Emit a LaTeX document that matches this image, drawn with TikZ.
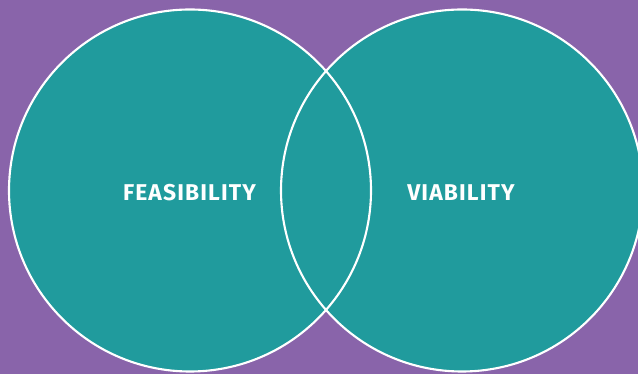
\documentclass[tikz,border=0pt]{standalone}
\usepackage{fontspec}
\setmainfont{Fira Sans}
\usepackage{tikz}
\usetikzlibrary{backgrounds}
\definecolor{vennpurple}{RGB}{137,100,170}
\definecolor{vennteal}{RGB}{32,155,157}
\tikzstyle{vennfill}=[fill=vennteal]
\tikzstyle{vennline}=[draw=white, line width=1.2pt]
\tikzstyle{vennlabel}=[text=white, font=\fontsize{13}{15}\selectfont\bfseries\addfontfeature{LetterSpace=5}, inner sep=0pt]
\begin{document}
\begin{tikzpicture}
	\useasboundingbox (0,0) rectangle (12.76,7.48);
	\fill[vennpurple] (0,0) rectangle (12.76,7.48);
	\coordinate (feasC) at (3.8,3.67);
	\coordinate (viabC) at (9.24,3.67);
	\fill[vennfill] (feasC) circle (3.62);
	\fill[vennfill] (viabC) circle (3.62);
	\draw[vennline] (feasC) circle (3.62);
	\draw[vennline] (viabC) circle (3.62);
	\node[vennlabel] (feas) at (3.79,3.62) {FEASIBILITY};
	\node[vennlabel] (viab) at (9.22,3.62) {VIABILITY};
\end{tikzpicture}
\end{document}
